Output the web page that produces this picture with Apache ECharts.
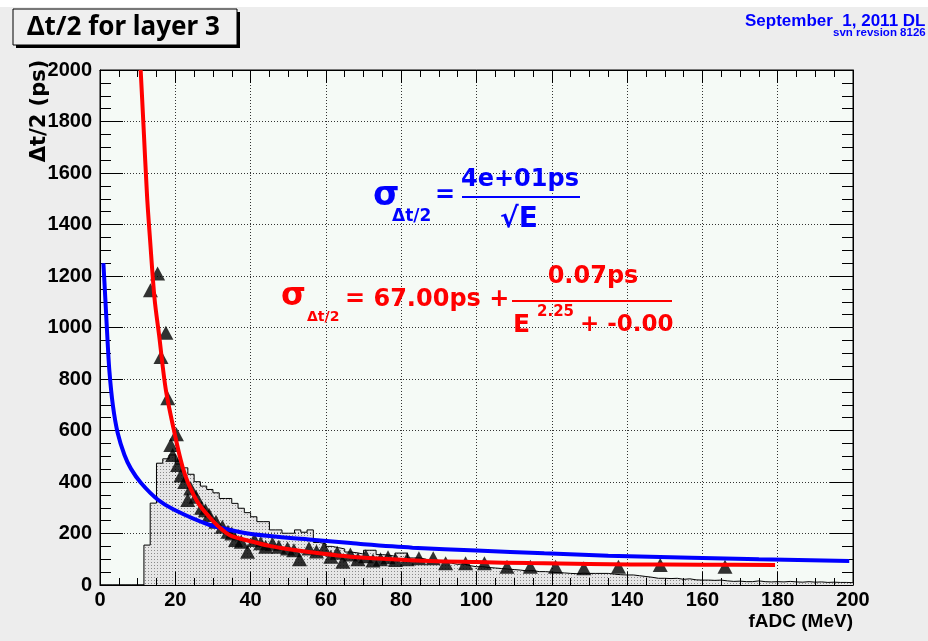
<!DOCTYPE html>
<html>
<head>
<meta charset="utf-8">
<script src="https://cdn.jsdelivr.net/npm/echarts@6/dist/echarts.min.js"></script>
<style>
html,body{margin:0;padding:0;background:#ededed;}
#chart{width:928px;height:641px;}
</style>
</head>
<body>
<div id="chart"></div>
<script>
// ---- data ----
const xTicks = [0, 20, 40, 60, 80, 100, 120, 140, 160, 180, 200];
const yTicks = [0, 200, 400, 600, 800, 1000, 1200, 1400, 1600, 1800, 2000];

// histogram: 120 bins from 0 to 200 MeV
const histRange = [0, 200];
const histCounts = [
  0, 0, 0, 0, 0, 0, 0, 155, 318, 473,
  490, 505, 470, 455, 430, 401, 384, 371, 358, 336,
  336, 317, 298, 281, 265, 246, 246, 214, 214, 201,
  201, 214, 205, 214, 165, 160, 150, 145, 140, 128,
  125, 120, 135, 135, 118, 116, 112, 124, 124, 105,
  105, 100, 92, 95, 88, 85, 80, 82, 75, 71,
  71, 68, 66, 64, 62, 60, 58, 55, 56, 52,
  52, 50, 48, 47, 45, 44, 46, 45, 45, 45,
  45, 42, 40, 39, 39, 36, 33, 30, 26, 26,
  25, 26, 22, 24, 20, 19, 19, 18, 19, 16,
  14, 15, 13, 13, 16, 13, 12, 13, 12, 14,
  12, 11, 13, 11, 12, 10, 11, 10, 10, 9
];

// measured resolution points (triangles)
const measured = [
  [13.4,1145],[15.3,1210],[16.2,885],[17.5,980],[18.0,725],[18.8,544],[19.3,505],
  [20.3,585],[20.6,466],[21.5,425],[22.5,400],[23.3,330],[24.1,375],[25.5,343],
  [27.0,300],[28.0,290],[29.0,272],[30.8,246],[32.5,226],[34.0,207],[35.0,200],
  [36.0,175],[37.5,168],[39.2,129],[41.0,175],[42.7,162],[44.0,149],[45.8,160],
  [47.5,149],[49.8,142],[51.5,135],[53.0,100],[55.5,142],[57.5,130],[59.5,142],
  [61.3,110],[63.0,125],[64.5,90],[66.5,118],[68.5,100],[70.6,112],[72.5,95],
  [74.5,100],[76.5,108],[78.5,97],[81.6,100],[84.7,104],[88.5,104],[91.8,84],
  [97.1,84],[102.1,84],[108.1,71],[114.3,71],[121.0,71],[128.5,65],[137.7,71],
  [148.8,78],[166.0,71]
];

// blue curve (sigma ~ 1/sqrt(E))
const blueCurve = [
  [0.9,1250],[1.2,1170],[1.6,1060],[2.0,950],[2.5,830],[3.4,700],[4.7,590],
  [6.5,505],[8.2,452],[10.9,396],[15.3,332],[19.7,292],[28.6,236],[37.4,205],
  [45,190],[57,175],[66.6,163],[70,158],[83,145],[100,134],[118,123],[135,114],
  [157,106],[175,100],[199,93]
];

// red curve
const redCurve = [
  [10.8,2000],[11.5,1800],[12.5,1510],[13.3,1340],[14.5,1110],[15.7,970],
  [17.5,757],[20.2,563],[21.9,460],[23.3,400],[26,320],[29,265],[32,220],
  [34.7,192],[40,170],[45,152],[50.7,138],[59.4,121],[66.6,110],[75,102],
  [87.8,93],[100,89],[114,85],[130,82],[140.8,80],[160,79],[179.3,78]
];

// ---- build ----
const binW = (histRange[1] - histRange[0]) / histCounts.length;
const histLine = histCounts.map((v, i) => [histRange[0] + i * binW, v]);
histLine.push([histRange[1], histCounts[histCounts.length - 1]]);

const pat = document.createElement('canvas');
pat.width = 3; pat.height = 3;
const pctx = pat.getContext('2d');
pctx.fillStyle = '#e6e6e6'; pctx.fillRect(0, 0, 3, 3);
pctx.fillStyle = '#8a8a8a'; pctx.fillRect(1, 1, 1, 1);

const BOLD = 'Liberation Sans';
const DJ = '"DejaVu Sans", sans-serif';

const chart = echarts.init(document.getElementById('chart'), null, {renderer: 'canvas'});

function xAx(pos, labels) {
  return {
    type: 'value', position: pos, min: xTicks[0], max: xTicks[xTicks.length - 1],
    interval: xTicks[1] - xTicks[0], z: 1.5,
    axisLine: {show: true, onZero: false, lineStyle: {color: '#000', width: 1}},
    axisTick: {show: true, inside: true, length: 13, lineStyle: {color: '#000'}},
    minorTick: {show: true, splitNumber: 4, length: 7, lineStyle: {color: '#000'}},
    splitLine: {show: labels, lineStyle: {color: '#333', type: [1, 2], width: 1}},
    axisLabel: {show: labels, color: '#000', fontFamily: BOLD, fontWeight: 'bold', fontSize: 20, margin: 5,
      formatter: v => String(v)}
  };
}
function yAx(pos, labels) {
  return {
    type: 'value', position: pos, min: yTicks[0], max: yTicks[yTicks.length - 1],
    interval: yTicks[1] - yTicks[0], z: 1.5,
    axisLine: {show: true, onZero: false, lineStyle: {color: '#000', width: 1}},
    axisTick: {show: true, inside: true, length: 23, lineStyle: {color: '#000'}},
    minorTick: {show: true, splitNumber: 4, length: 11, lineStyle: {color: '#000'}},
    splitLine: {show: labels, lineStyle: {color: '#333', type: [1, 2], width: 1}},
    axisLabel: {show: labels, color: '#000', fontFamily: BOLD, fontWeight: 'bold', fontSize: 20, margin: 8,
      formatter: v => String(v)}
  };
}

const blue = '#0000ff', red = '#ff0000';
function txt(x, y, s, size, color, opts) {
  return Object.assign({
    type: 'text', x: x, y: y, z: 10,
    style: Object.assign({text: s, fill: color, font: 'bold ' + size + 'px ' + DJ,
      textAlign: 'left', textVerticalAlign: 'middle'}, (opts && opts.style) || {})
  }, opts && opts.el || {});
}

const option = {
  animation: false,
  backgroundColor: '#ededed',
  grid: {left: 100, top: 70, right: 75, bottom: 56, show: true,
    backgroundColor: '#f5faf6', borderColor: '#000', borderWidth: 1},
  xAxis: [xAx('bottom', true), xAx('top', false)],
  yAxis: [yAx('left', true), yAx('right', false)],
  series: [
    {type: 'line', data: histLine, step: 'end', symbol: 'none', z: 1,
      lineStyle: {color: '#000', width: 1},
      areaStyle: {color: {image: pat, repeat: 'repeat'}, opacity: 1, origin: 'start'}},
    {type: 'scatter', data: measured, symbol: 'triangle', symbolSize: [15, 14], z: 3,
      itemStyle: {color: '#000'}},
    {type: 'line', data: blueCurve, smooth: 0.3, symbol: 'none', z: 4,
      lineStyle: {color: blue, width: 4}},
    {type: 'line', data: redCurve, smooth: 0.3, symbol: 'none', z: 5, clip: true,
      lineStyle: {color: red, width: 4}}
  ],
  graphic: [
    {type: 'rect', shape: {x: 0, y: 0, width: 928, height: 7}, style: {fill: '#ffffff'}, z: 0},
    // title box with shadow
    {type: 'rect', shape: {x: 16, y: 12, width: 224, height: 36}, style: {fill: '#000'}, z: 8},
    {type: 'rect', shape: {x: 13, y: 9, width: 224, height: 36}, style: {fill: '#efefef', stroke: '#000', lineWidth: 1}, z: 9},
    {type: 'text', x: 27, y: 28, z: 10, style: {text: '\u0394t/2 for layer 3', fill: '#000',
      font: 'bold 26px "Noto Sans", sans-serif', textAlign: 'left', textVerticalAlign: 'middle'}},
    // date stamp
    {type: 'text', x: 745, y: 21, z: 10, style: {text: 'September  1, 2011 DL', fill: blue,
      font: 'bold 17px "Liberation Sans"', textAlign: 'left', textVerticalAlign: 'middle'}},
    {type: 'text', x: 833, y: 33, z: 10, style: {text: 'svn revsion 8126', fill: blue,
      font: 'bold 11.5px "Liberation Sans"', textAlign: 'left', textVerticalAlign: 'middle'}},
    // axis titles
    {type: 'text', x: 853, y: 622, z: 10, style: {text: 'fADC (MeV)', fill: '#000',
      font: 'bold 19px "Liberation Sans"', textAlign: 'right', textVerticalAlign: 'middle'}},
    {type: 'text', x: 40, y: 111, rotation: Math.PI / 2, z: 10, style: {text: '\u0394t/2 (ps)', fill: '#000',
      font: 'bold 21px ' + DJ, textAlign: 'center', textVerticalAlign: 'middle'}},
    // blue formula
    txt(373, 196, '\u03c3', 34, blue),
    txt(392, 217, '\u0394t/2', 17, blue),
    txt(445, 196, '=', 24, blue, {style: {textAlign: 'center'}}),
    {type: 'rect', shape: {x: 462, y: 196, width: 118, height: 2}, style: {fill: blue}, z: 10},
    txt(520, 180, '4e+01ps', 24, blue, {style: {textAlign: 'center'}}),
    txt(519, 220, '\u221aE', 28, blue, {style: {textAlign: 'center'}}),
    // red formula
    txt(281, 297, '\u03c3', 32, red),
    txt(307, 317, '\u0394t/2', 14, red),
    txt(345, 300, '= 67.00ps +', 24, red),
    {type: 'rect', shape: {x: 512, y: 300, width: 160, height: 2}, style: {fill: red}, z: 10},
    txt(593, 277, '0.07ps', 24, red, {style: {textAlign: 'center'}}),
    txt(513, 325, 'E', 25, red),
    txt(537, 312, '2.25', 15, red),
    txt(580, 325, '+ -0.00', 23, red)
  ]
};
chart.setOption(option);
</script>
</body>
</html>
